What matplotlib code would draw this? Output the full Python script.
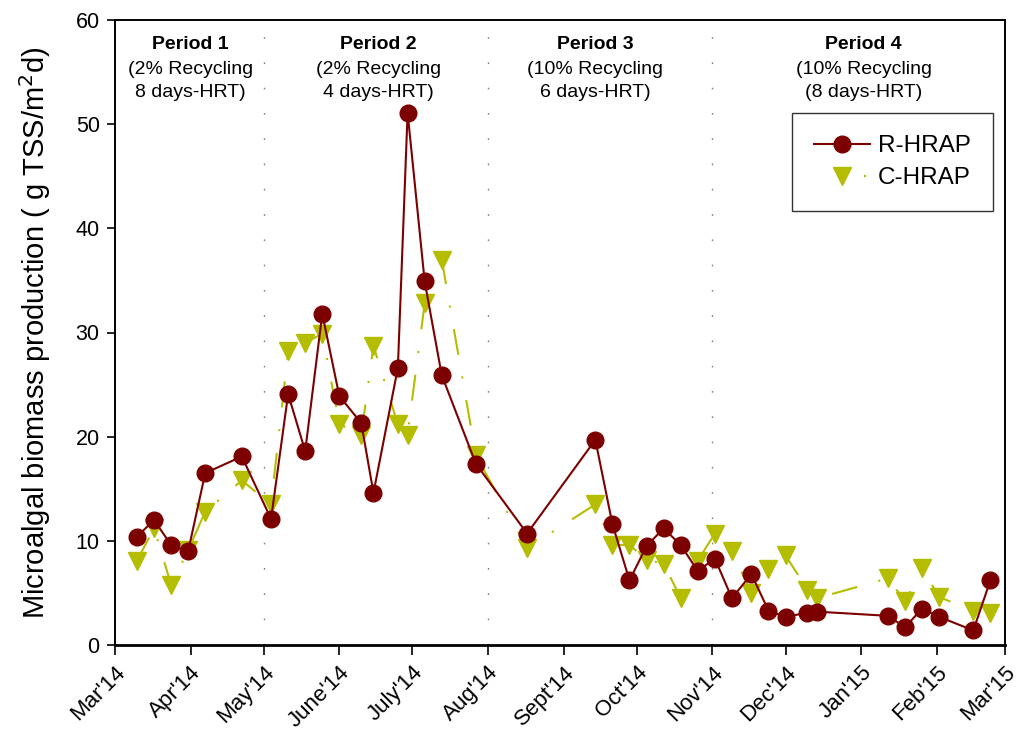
import matplotlib
matplotlib.use("Agg")
import matplotlib.pyplot as plt
from matplotlib.lines import Line2D
import pandas as pd

plt.rcParams['font.family'] = ['Liberation Sans', 'DejaVu Sans']

# Sampling dates (shared by both ponds)
dates = pd.to_datetime([
    "2014-03-10", "2014-03-17", "2014-03-24", "2014-03-31", "2014-04-07",
    "2014-04-22", "2014-05-04", "2014-05-11", "2014-05-18", "2014-05-25",
    "2014-06-01", "2014-06-10", "2014-06-15", "2014-06-25", "2014-06-29",
    "2014-07-06", "2014-07-13", "2014-07-27", "2014-08-17", "2014-09-14",
    "2014-09-21", "2014-09-28", "2014-10-05", "2014-10-12", "2014-10-19",
    "2014-10-26", "2014-11-02", "2014-11-09", "2014-11-17", "2014-11-24",
    "2014-12-01", "2014-12-10", "2014-12-14", "2015-01-12", "2015-01-19",
    "2015-01-26", "2015-02-02", "2015-02-16", "2015-02-23",
])

r_hrap = [10.4, 12.0, 9.6, 9.0, 16.5, 18.1, 12.1, 24.1, 18.6, 31.8,
          23.9, 21.3, 14.6, 26.6, 51.1, 34.9, 25.9, 17.4, 10.7, 19.7,
          11.6, 6.2, 9.5, 11.2, 9.6, 7.1, 8.3, 4.5, 6.8, 3.3,
          2.7, 3.1, 3.2, 2.8, 1.7, 3.5, 2.7, 1.4, 6.2]

c_hrap = [8.1, 11.2, 5.8, 9.1, 12.8, 15.8, 13.5, 28.2, 29.0, 29.9,
          21.2, 20.2, 28.7, 21.2, 20.2, 32.8, 37.0, 18.2, 9.3, 13.5,
          9.6, 9.6, 8.2, 7.8, 4.5, 8.1, 10.7, 9.0, 5.0, 7.3,
          8.6, 5.3, 4.5, 6.4, 4.2, 7.4, 4.6, 3.3, 3.1]

month_ticks = pd.date_range("2014-03-01", "2015-03-01", freq="MS")
month_labels = ["Mar'14", "Apr'14", "May'14", "June'14", "July'14", "Aug'14",
                "Sept'14", "Oct'14", "Nov'14", "Dec'14", "Jan'15", "Feb'15",
                "Mar'15"]

period_bounds = pd.to_datetime(["2014-05-01", "2014-08-01", "2014-11-01"])
period_centers = pd.to_datetime(["2014-04-01", "2014-06-17", "2014-09-14", "2015-01-02"])
period_titles = ["Period 1", "Period 2", "Period 3", "Period 4"]
period_notes = ["(2% Recycling\n8 days-HRT)", "(2% Recycling\n4 days-HRT)",
                "(10% Recycling\n6 days-HRT)", "(10% Recycling\n(8 days-HRT)"]

fig = plt.figure(figsize=(10.22, 7.31), dpi=100)
ax = fig.add_axes([115 / 1022, 1 - 645 / 731, 890 / 1022, 625 / 731])

dark_red = "#7D0000"
olive = "#B5BD00"
c_dash = (0, (12.5, 10.5, 1.0, 10.5))   # long dash, gap, dot, gap

for b in period_bounds:
    ax.axvline(b, color="#808080", lw=1.0, linestyle=(0, (1.2, 17)), zorder=1)

ax.plot(dates, c_hrap, color=olive, lw=1.5, linestyle=c_dash,
        marker="v", markersize=12.5, markerfacecolor=olive, markeredgecolor=olive,
        zorder=2)
ax.plot(dates, r_hrap, color=dark_red, lw=1.5, marker="o", markersize=12,
        markerfacecolor=dark_red, markeredgecolor=dark_red, zorder=3)

for xc, title, note in zip(period_centers, period_titles, period_notes):
    ax.text(xc, 58.5, title, ha="center", va="top", fontsize=14, fontweight="bold")
    ax.text(xc, 56.1, note, ha="center", va="top", fontsize=14, linespacing=1.5)

ax.set_xlim(pd.Timestamp("2014-03-01"), pd.Timestamp("2015-03-01"))
ax.set_ylim(0, 60)
ax.set_yticks(range(0, 61, 10))
ax.set_xticks(month_ticks)
ax.set_xticklabels(month_labels, rotation=45, ha="right", rotation_mode="anchor",
                   fontsize=16)
ax.tick_params(axis="y", labelsize=15.5, direction="out", length=6, width=1.2, pad=5)
ax.tick_params(axis="x", direction="out", length=7, width=1.2, pad=5)

for s in ax.spines.values():
    s.set_linewidth(1.4)
ax.spines["bottom"].set_linewidth(2.0)

ax.set_ylabel("Microalgal biomass production ( g TSS/m$^2$d)", fontsize=21, labelpad=16)

# Legend handles: the C-HRAP sample shows only a short dot after the marker
h_r = Line2D([], [], color=dark_red, lw=1.5, marker="o", markersize=12,
             markerfacecolor=dark_red, markeredgecolor=dark_red)
h_c = Line2D([], [], color=olive, lw=1.5, linestyle=(27.0, (1.0, 50.0)),
             marker="v", markersize=12.5, markerfacecolor=olive, markeredgecolor=olive)
leg = ax.legend([h_r, h_c], ["R-HRAP", "C-HRAP"], loc="upper right",
                bbox_to_anchor=(0.9865, 0.851), borderaxespad=0, fontsize=17.5,
                frameon=True, fancybox=False, edgecolor="black", borderpad=0.9,
                handlelength=2.3, handleheight=0.7, handletextpad=0.35,
                labelspacing=0.42)
leg.get_frame().set_linewidth(1.0)

fig.savefig("out.png", dpi=100)
